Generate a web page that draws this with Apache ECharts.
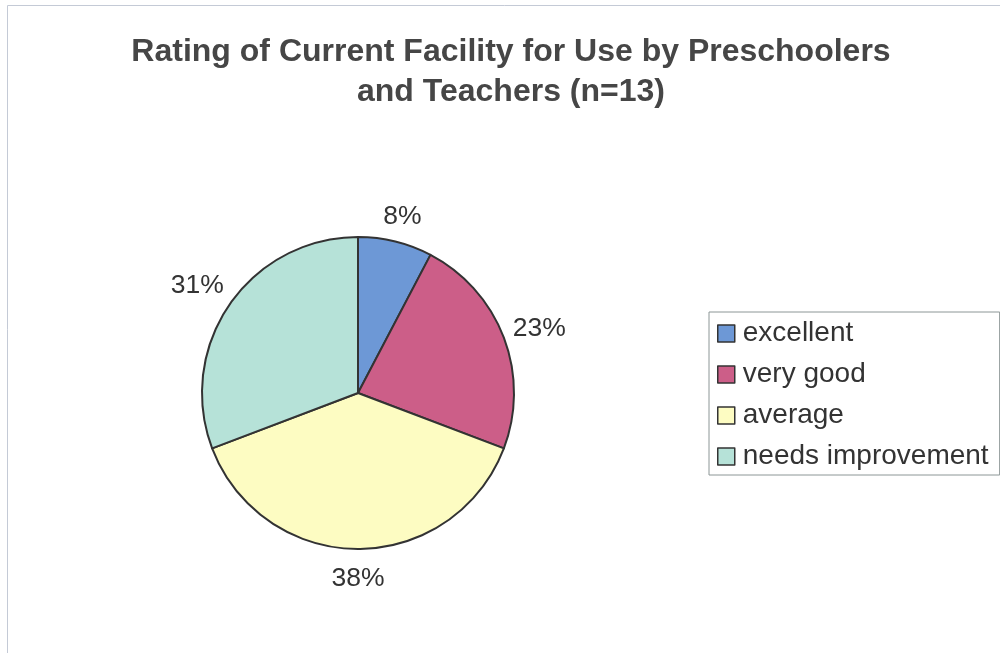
<!DOCTYPE html>
<html>
<head>
<meta charset="utf-8">
<script src="https://cdn.jsdelivr.net/npm/echarts@6/dist/echarts.min.js"></script>
<style>
html,body{margin:0;padding:0;background:#fff;}
#chart{width:1000px;height:653px;}
</style>
</head>
<body>
<div id="chart"></div>
<script>
var titleLines = ['Rating of Current Facility for Use by Preschoolers', 'and Teachers (n=13)'];
var categories = ['excellent', 'very good', 'average', 'needs improvement'];
var counts = [1, 3, 5, 4];
var percentLabels = ['8%', '23%', '38%', '31%'];
var colors = ['#6d98d6', '#cc5e88', '#fdfcc2', '#b6e2d8'];

var CX = 358, CY = 393, R = 156;
var LABEL_GAP = 6, LABEL_HALF_H = 20, LABEL_DY = 4;

var data = categories.map(function (c, i) {
  return { name: c, value: counts[i], itemStyle: { color: colors[i] }, label: { formatter: percentLabels[i] } };
});

var chart = echarts.init(document.getElementById('chart'), null, { renderer: 'canvas' });
chart.setOption({
  backgroundColor: '#ffffff',
  animation: false,
  graphic: [{
    type: 'rect',
    shape: { x: 7.5, y: 5.5, width: 1000, height: 700 },
    style: { fill: 'none', stroke: '#c4cad6', lineWidth: 1 },
    silent: true, z: -1
  }],
  title: {
    text: titleLines.join('\n'),
    left: 506, top: 27,
    textAlign: 'center',
    textStyle: {
      fontFamily: 'Liberation Sans, Arial, sans-serif',
      fontWeight: 'bold', fontSize: 32, lineHeight: 40, color: '#464646'
    }
  },
  legend: {
    orient: 'vertical',
    left: 709, top: 312,
    padding: [6, 11, 3, 8],
    itemGap: 10,
    itemWidth: 17, itemHeight: 17,
    icon: 'rect',
    borderColor: '#8c9696', borderWidth: 1,
    itemStyle: { borderColor: '#333', borderWidth: 1.5 },
    textStyle: {
      fontFamily: 'Liberation Sans, Arial, sans-serif',
      fontSize: 28, lineHeight: 31, color: '#333', padding: [0, 0, 0, 3]
    },
    data: categories
  },
  series: [{
    type: 'pie',
    center: [CX, CY],
    radius: [0, R],
    startAngle: 90,
    clockwise: true,
    label: {
      show: true, position: 'inside',
      fontFamily: 'Liberation Sans, Arial, sans-serif',
      fontSize: 26.5, color: '#333'
    },
    labelLine: { show: false },
    labelLayout: function (p) {
      var lr = p.labelRect;
      var lx = lr.x + lr.width / 2 - CX, ly = lr.y + lr.height / 2 - CY;
      var len = Math.sqrt(lx * lx + ly * ly) || 1;
      var ux = lx / len, uy = ly / len;
      var d = R + LABEL_GAP + (lr.width / 2) * Math.abs(ux) + LABEL_HALF_H * Math.abs(uy);
      return { x: CX + ux * d, y: CY + uy * d + LABEL_DY, align: 'center', verticalAlign: 'middle' };
    },
    itemStyle: { borderColor: '#333', borderWidth: 2 },
    emphasis: { disabled: true },
    data: data
  }]
});
</script>
</body>
</html>
